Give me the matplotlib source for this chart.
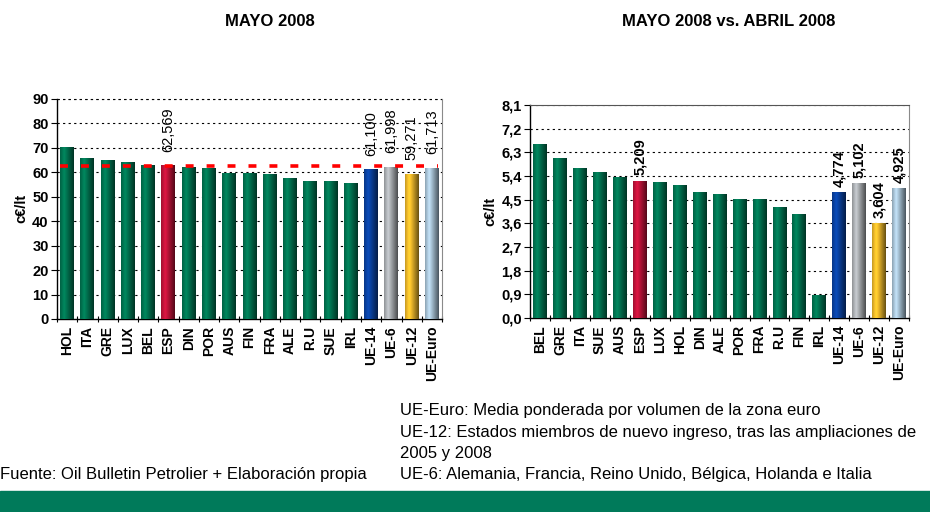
import numpy as np
import matplotlib.pyplot as plt
from matplotlib.colors import to_rgb

plt.rcParams['font.family'] = ['Liberation Sans', 'DejaVu Sans']

# precio mayo 2008 (c€/lt)
paises_mayo = ['HOL', 'ITA', 'GRE', 'LUX', 'BEL', 'ESP', 'DIN', 'POR', 'AUS', 'FIN',
               'FRA', 'ALE', 'R.U', 'SUE', 'IRL', 'UE-14', 'UE-6', 'UE-12', 'UE-Euro']
valores_mayo = [70.0, 65.7, 64.6, 63.8, 62.9, 62.569, 62.0, 61.6, 59.6, 59.6,
                59.2, 57.6, 56.3, 56.3, 55.5, 61.100, 61.998, 59.271, 61.713]

# variacion mayo vs abril (c€/lt)
paises_var = ['BEL', 'GRE', 'ITA', 'SUE', 'AUS', 'ESP', 'LUX', 'HOL', 'DIN', 'ALE',
              'POR', 'FRA', 'R.U', 'FIN', 'IRL', 'UE-14', 'UE-6', 'UE-12', 'UE-Euro']
valores_var = [6.58, 6.08, 5.70, 5.55, 5.36, 5.209, 5.17, 5.02, 4.79, 4.68,
               4.52, 4.49, 4.22, 3.95, 0.84, 4.774, 5.102, 3.604, 4.925]

etiquetados = ['ESP', 'UE-14', 'UE-6', 'UE-12', 'UE-Euro']

colores = {'ESP': '#c8143c', 'UE-14': '#0a44a8', 'UE-6': '#b4b8bc',
           'UE-12': '#f6c02c', 'UE-Euro': '#b0cce0'}
VERDE = '#007a55'


def degradado(color, n=40):
    # sombreado tipo cilindro de izquierda a derecha
    t = np.linspace(0, 1, n)
    f = np.interp(t, [0, 0.3, 1], [0.8, 1.12, 0.42])
    rgb = np.array(to_rgb(color))
    img = np.clip(rgb[None, :] * f[:, None], 0, 1)
    return img[None, :, :]


def barras(ax, nombres, valores, ymax, ticks, fmt_tick, offset, peso):
    x = np.arange(len(nombres))
    cols = [colores.get(n, VERDE) for n in nombres]
    rects = ax.bar(x, valores, width=0.69, color=cols, zorder=2)
    for r, c in zip(rects, cols):
        x0, w, h = r.get_x(), r.get_width(), r.get_height()
        ax.imshow(degradado(c), extent=(x0, x0 + w, 0, h), aspect='auto',
                  zorder=3, interpolation='bilinear')
    ax.set_xlim(-0.5, len(nombres) - 0.5)
    ax.set_ylim(0, ymax)
    ax.set_yticks(ticks)
    ax.set_yticklabels([fmt_tick(t) for t in ticks], fontsize=10.5, fontweight='bold')
    ax.set_xticks(x)
    ax.set_xticklabels(nombres, rotation=90, fontsize=10, fontweight='bold')
    ax.tick_params(axis='x', length=0, pad=5)
    ax.set_xticks(np.arange(len(nombres) + 1) - 0.5, minor=True)
    ax.tick_params(axis='x', which='minor', length=4, direction='inout', width=0.8)
    ax.tick_params(axis='y', length=4, width=0.8, pad=2)
    for t in ticks[1:]:
        ax.axhline(t, color='black', lw=0.8, ls=(0, (2, 3)), zorder=1)
    ax.set_ylabel('c€/lt', fontsize=10.5, fontweight='bold', labelpad=3)
    for n, v, r in zip(nombres, valores, rects):
        if n in etiquetados:
            txt = ('%.3f' % v).replace('.', ',')
            ax.annotate(txt, (r.get_x() + r.get_width() / 2, v),
                        xytext=(0, offset), textcoords='offset points',
                        rotation=90, ha='center', va='bottom', fontsize=10.5,
                        fontweight=peso, zorder=5)
    ax.spines['right'].set_color('#8a8a8a')
    ax.spines['left'].set_linewidth(1.0)
    ax.spines['bottom'].set_linewidth(1.0)
    return rects


fig = plt.figure(figsize=(9.3, 5.12), dpi=100)

ax1 = fig.add_axes([0.0613, 0.377, 0.414, 0.430])
barras(ax1, paises_mayo, valores_mayo, 90, list(range(0, 91, 10)),
       lambda t: '%d' % t, 10, 'normal')
ax1.spines['top'].set_visible(False)
ax1.axhline(90, color='black', lw=0.8, ls=(0, (2, 3)), zorder=1, clip_on=False)
# referencia del precio en España
esp = valores_mayo[paises_mayo.index('ESP')]
ax1.plot([-0.35, len(paises_mayo) - 0.7], [esp, esp], color='#ff0000', lw=2.6,
         ls=(0, (2.2, 3.6)), zorder=4)

ax2 = fig.add_axes([0.570, 0.379, 0.4075, 0.416])
ticks_var = [round(0.9 * i, 1) for i in range(10)]
barras(ax2, paises_var, valores_var, 8.1, ticks_var,
       lambda t: ('%.1f' % t).replace('.', ','), 4, 'bold')
ax2.spines['top'].set_color('#555555')

fig.text(0.290, 0.958, 'MAYO 2008', ha='center', va='center', fontsize=12,
         fontweight='bold')
fig.text(0.783, 0.958, 'MAYO 2008 vs. ABRIL 2008', ha='center', va='center',
         fontsize=12, fontweight='bold')

notas = ['UE-Euro: Media ponderada por volumen de la zona euro',
         'UE-12: Estados miembros de nuevo ingreso, tras las ampliaciones de',
         '2005 y 2008',
         'UE-6: Alemania, Francia, Reino Unido, Bélgica, Holanda e Italia']
for i, linea in enumerate(notas):
    fig.text(0.430, 1 - (411 + i * 21.3) / 512, linea, ha='left', va='center',
             fontsize=12)
fig.text(0.0, 1 - 475 / 512, 'Fuente: Oil Bulletin Petrolier + Elaboración propia',
         ha='left', va='center', fontsize=12)

fig.patches.append(plt.Rectangle((0, 0), 1, 21 / 512, transform=fig.transFigure,
                                 color='#007a5a', zorder=0))

fig.savefig('out.png', dpi=100)
